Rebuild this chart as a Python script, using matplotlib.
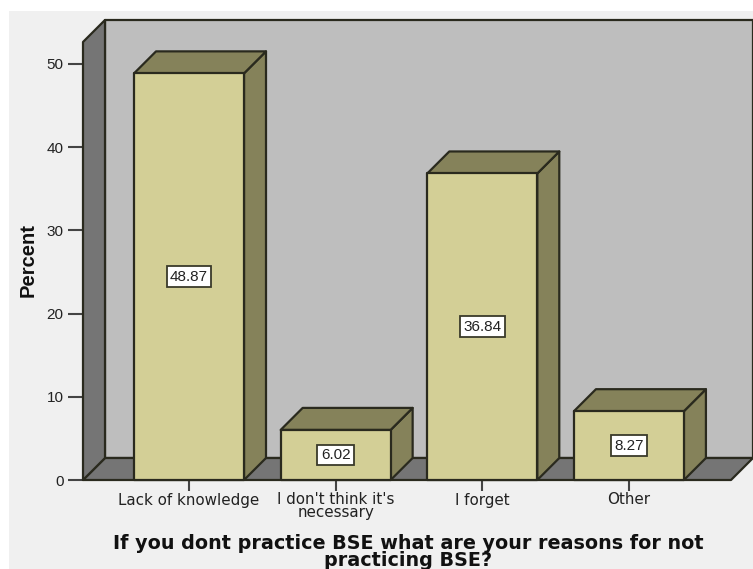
import matplotlib
matplotlib.use("Agg")
import matplotlib.pyplot as plt
from matplotlib.patches import Polygon, Rectangle

categories = ["Lack of knowledge", "I don't think it's\nnecessary", "I forget", "Other"]
percents = [48.87, 6.02, 36.84, 8.27]
y_ticks = [0, 10, 20, 30, 40, 50]

W, H = 753, 569
PANEL = "#f0f0f0"
WALL = "#bebebe"
SIDE_WALL = "#757575"
FRONT = "#d3cf96"
SHADE = "#85825a"
EDGE = "#2a2a1e"
TEXT = "#222222"

plt.rcParams["font.family"] = ["Liberation Sans", "DejaVu Sans"]

fig = plt.figure(figsize=(W / 100, H / 100), dpi=100, facecolor="white")
fig.patches.append(Rectangle((9 / W, 0), 1 - 9 / W, 1 - 11 / H, transform=fig.transFigure,
                             facecolor=PANEL, edgecolor="none", zorder=-1))

# axes box spans the front plane of the 3D frame
ax = fig.add_axes([83 / W, (H - 480) / H, (731 - 83) / W, (480 - 42) / H])
ax.patch.set_visible(False)
ax.set_xlim(-0.723, 3.696)
ax.set_ylim(0, 52.64)
for s in ax.spines.values():
    s.set_visible(False)

# extrusion depth, in data units
dx = 0.15
dy = 2.644
x0, x1 = ax.get_xlim()
y1 = ax.get_ylim()[1]


def poly(pts, color, z, lw=1.6):
    ax.add_patch(Polygon(pts, closed=True, facecolor=color, edgecolor=EDGE, linewidth=lw,
                         joinstyle="round", clip_on=False, zorder=z))


# back wall, floor, left wall
poly([(x0 + dx, dy), (x1 + dx, dy), (x1 + dx, y1 + dy), (x0 + dx, y1 + dy)], WALL, 1)
poly([(x0, 0), (x1, 0), (x1 + dx, dy), (x0 + dx, dy)], SIDE_WALL, 2)
poly([(x0, 0), (x0 + dx, dy), (x0 + dx, y1 + dy), (x0, y1)], SIDE_WALL, 2)

bar_w = 0.75
for i, v in enumerate(percents):
    left, right = i - bar_w / 2, i + bar_w / 2
    poly([(right, 0), (right + dx, dy), (right + dx, v + dy), (right, v)], SHADE, 3)
    poly([(left, v), (right, v), (right + dx, v + dy), (left + dx, v + dy)], SHADE, 3)
    poly([(left, 0), (right, 0), (right, v), (left, v)], FRONT, 4)
    ax.text(i, v / 2, f"{v:.2f}", ha="center", va="center", fontsize=11, color=TEXT, zorder=5,
            bbox=dict(boxstyle="square,pad=0.22", facecolor="white", edgecolor="#3a3a2a", linewidth=1.3))

ax.set_xticks(range(len(categories)))
ax.set_xticklabels(categories, fontsize=10.9, family="DejaVu Sans", color=TEXT, linespacing=0.8)
ax.set_yticks(y_ticks)
ax.tick_params(axis="x", length=8, width=1.5, color="#444444", pad=1)
ax.tick_params(axis="y", length=11, width=1.5, color="#444444", labelsize=11, labelcolor=TEXT, pad=3)

fig.text(28 / W, 1 - 260 / H, "Percent", rotation=90, ha="center", va="center",
         fontsize=14.5, fontweight="bold", color="#111111")
fig.text(408 / W, 1 - 552 / H, "If you dont practice BSE what are your reasons for not\npracticing BSE?",
         ha="center", va="center", fontsize=13.8, fontweight="bold", family="DejaVu Sans",
         color="#111111", linespacing=0.85)

fig.savefig("out.png", dpi=100, facecolor=fig.get_facecolor())
